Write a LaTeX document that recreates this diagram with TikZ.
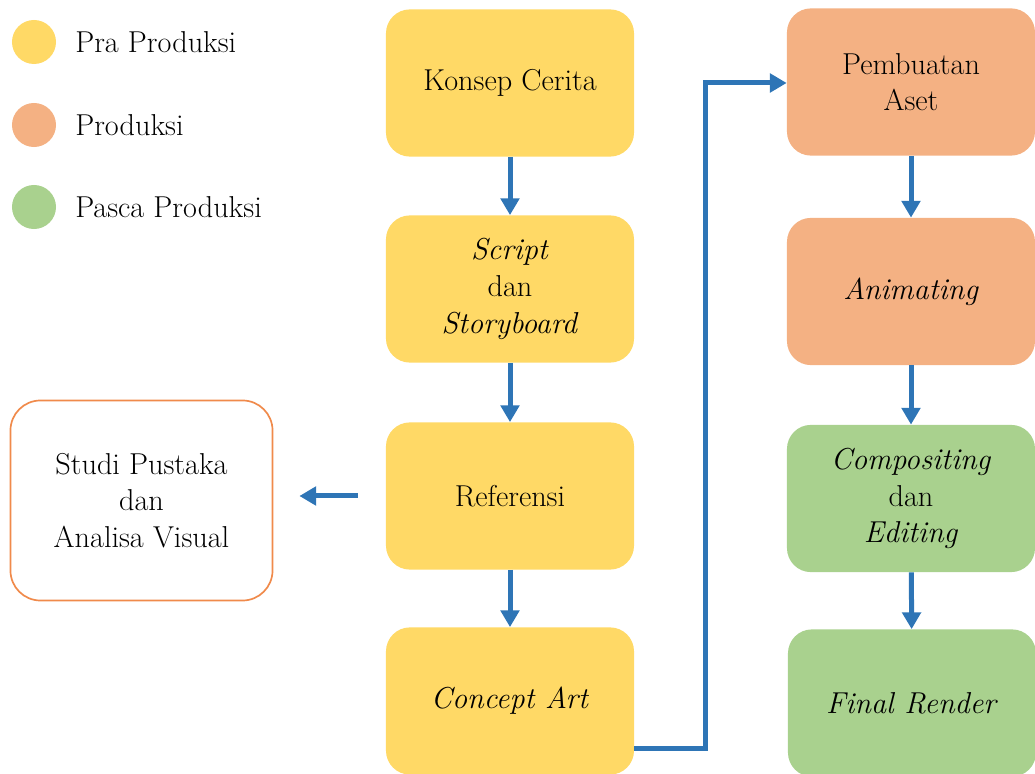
\documentclass[tikz,border=0pt]{standalone}
\usepackage{fontspec}
\usetikzlibrary{arrows.meta,positioning}

\definecolor{praYellow}{HTML}{FFD966}
\definecolor{prodOrange}{HTML}{F4B183}
\definecolor{pascaGreen}{HTML}{A9D18E}
\definecolor{flowBlue}{HTML}{2E75B6}
\definecolor{edgeOrange}{HTML}{F08A4B}

\tikzset{
  stage/.style={rectangle, rounded corners=0.6cm, minimum width=6.2cm,
    minimum height=3.68cm, align=center, inner sep=2pt,
    font=\fontsize{21.5}{26}\selectfont},
  prastage/.style={stage, fill=praYellow},
  prodstage/.style={stage, fill=prodOrange},
  pascastage/.style={stage, fill=pascaGreen},
  dot/.style={circle, minimum size=1.1cm, inner sep=0pt},
  legtext/.style={anchor=west, inner sep=0pt, font=\fontsize{21.5}{26}\selectfont},
  flow/.style={draw=flowBlue, line width=0.125cm,
    -{Triangle[length=0.42cm, width=0.46cm]}}
}

\begin{document}
\begin{tikzpicture}[x=0.025cm, y=-0.025cm]
  \useasboundingbox (0,0) rectangle (1035,774);

  % legend
  \node[dot, fill=praYellow] (dotpra) at (34,42) {};
  \node[dot, fill=prodOrange] (dotprod) at (34,125) {};
  \node[dot, fill=pascaGreen] (dotpasca) at (34,207) {};
  \node[legtext] (legpra) at (75,42) {Pra Produksi};
  \node[legtext] (legprod) at (75,125) {Produksi};
  \node[legtext] (legpasca) at (75,207) {Pasca Produksi};

  % pra produksi
  \node[prastage] (konsep) at (510,83) {Konsep Cerita};
  \node[prastage] (script) at (510,289) {\textit{Script}\\dan\\\textit{Storyboard}};
  \node[prastage] (referensi) at (510,496) {Referensi};
  \node[prastage] (concept) at (510,701) {\textit{Concept Art}};

  % studi pustaka
  \node[stage, draw=edgeOrange, line width=1.2pt, fill=white,
    rounded corners=0.75cm, minimum width=6.55cm, minimum height=5cm]
    (studi) at (141.5,500.5) {Studi Pustaka\\dan\\Analisa Visual};

  % produksi dan pasca produksi
  \node[prodstage] (aset) at (911,82) {Pembuatan\\Aset};
  \node[prodstage] (animating) at (911,291.5) {\textit{Animating}};
  \node[pascastage] (compositing) at (911,498.5) {\textit{Compositing}\\dan\\\textit{Editing}};
  \node[pascastage] (render) at (912,703) {\textit{Final Render}};

  % connectors
  \draw[flow] (konsep) -- (script);
  \draw[flow] (script) -- (referensi);
  \draw[flow] (referensi) -- (concept);
  \draw[flow, shorten <=0.7cm, shorten >=0.65cm]
    (referensi.west) -- (referensi.west -| studi.east);

  \coordinate (turnlow) at (705,748);
  \coordinate (turnhigh) at (705,83);
  \draw[flow]
    (concept.east |- turnlow) -- (turnlow) -- (turnhigh) -- (turnhigh -| aset.west);

  \draw[flow] (aset) -- (animating);
  \draw[flow] (animating) -- (compositing);
  \draw[flow] (compositing) -- (render);
\end{tikzpicture}
\end{document}
